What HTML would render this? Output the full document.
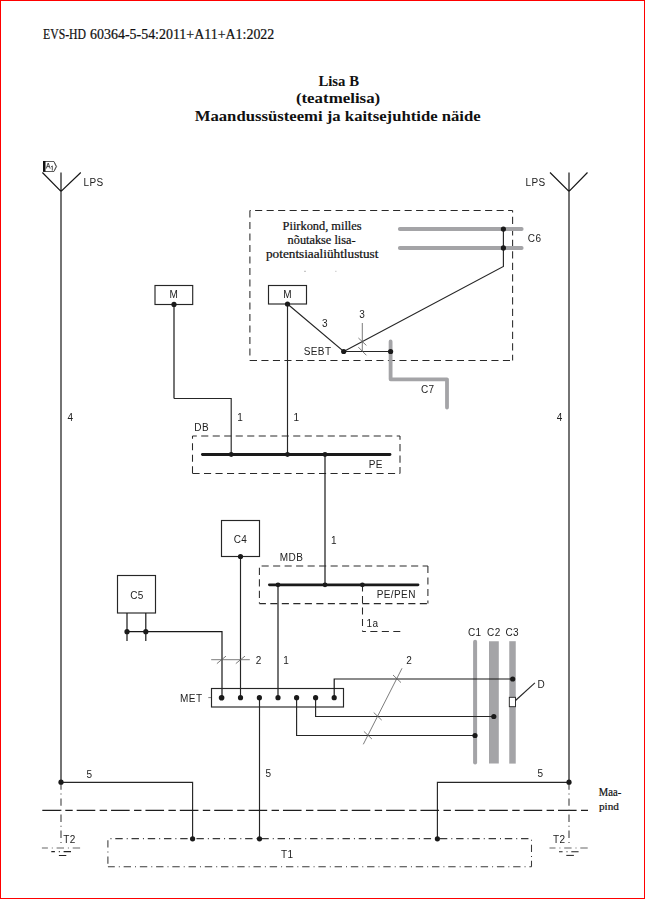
<!DOCTYPE html>
<html><head><meta charset="utf-8">
<style>
html,body{margin:0;padding:0;background:#fff;}
body{width:645px;height:899px;overflow:hidden;position:relative;}
svg{position:absolute;left:0;top:0;}
#dg{will-change:transform;}
.s{font-family:"Liberation Sans",sans-serif;font-size:10px;fill:#222;letter-spacing:0.4px;transform:translateY(0.4px);}
.r{font-family:"Liberation Serif",serif;fill:#111;stroke:#111;stroke-width:0.22;}
.b{stroke:none;}
.b{font-weight:bold;}
.ln{stroke:#262626;stroke-width:1.15;fill:none;}
.ln2{stroke:#181818;stroke-width:1.2;fill:none;}
.th{stroke:#5a5a5a;stroke-width:0.8;fill:none;}
.pipe{stroke:#a4a4a7;fill:none;}
.dash{stroke:#2a2a2a;stroke-width:1.05;fill:none;stroke-dasharray:7.1 4.4;}
.dd{stroke:#3a3a3a;stroke-width:1.05;fill:none;stroke-dasharray:7.4 3.9 1 3.8;}
</style></head><body>
<svg id="tx" width="645" height="899" viewBox="0 0 645 899">
<text class="r" x="43" y="39.3" font-size="13.8" textLength="43" lengthAdjust="spacingAndGlyphs">EVS-HD</text>
<text class="r" x="90.1" y="39.3" font-size="13.8" textLength="184.2" lengthAdjust="spacingAndGlyphs">60364-5-54:2011+A11+A1:2022</text>
<text class="r b" x="318.4" y="85.8" font-size="15.6" textLength="40.6" lengthAdjust="spacingAndGlyphs">Lisa B</text>
<text class="r b" x="295.9" y="102.9" font-size="15.6" textLength="84.3" lengthAdjust="spacingAndGlyphs">(teatmelisa)</text>
<text class="r b" x="194.7" y="120.6" font-size="15.6" textLength="286" lengthAdjust="spacingAndGlyphs">Maandussüsteemi ja kaitsejuhtide näide</text>
<text class="r" x="322.1" y="229.7" font-size="11.6" text-anchor="middle" textLength="79" lengthAdjust="spacingAndGlyphs">Piirkond, milles</text>
<text class="r" x="321.6" y="244.1" font-size="11.6" text-anchor="middle" textLength="68" lengthAdjust="spacingAndGlyphs">nõutakse lisa-</text>
<text class="r" x="322.2" y="258.3" font-size="11.6" text-anchor="middle" textLength="112.4" lengthAdjust="spacingAndGlyphs">potentsiaaliühtlustust</text>
<text class="r" x="598.8" y="795.7" font-size="11.5" textLength="22.4" lengthAdjust="spacingAndGlyphs">Maa-</text>
<text class="r" x="599" y="809.9" font-size="11.2">pind</text>
</svg>
<svg id="dg" width="645" height="899" viewBox="0 0 645 899">
<rect x="0.5" y="0.5" width="644" height="898" fill="none" stroke="#ff0000" stroke-width="1"/>

<!-- header -->

<!-- LPS left -->
<path class="ln2" d="M61 172.5V782M42.4 172.5L61 191.4L80.8 172.5"/>
<text class="s" x="83.5" y="185.7">LPS</text>
<text class="s" x="67.5" y="421">4</text>
<!-- A1 marker -->
<path d="M43.5 161.5H54L56.6 166.5L54 171.5H43.5Z" fill="#fff" stroke="#333" stroke-width="0.8"/><path d="M54.2 162.5L56 166.5L54.2 170.5" fill="none" stroke="#444" stroke-width="0.6"/>
<rect x="43" y="161" width="2.5" height="10.7" fill="#111"/>
<path d="M46.2 168.6L48.2 163L50.2 168.6M47 166.6H49.4M51.1 166.9L52.3 165.9V170.6" fill="none" stroke="#333" stroke-width="0.85"/>

<!-- LPS right -->
<path class="ln2" d="M569 172.5V782M550 172.5L569 191.4L587.5 172.5"/>
<text class="s" x="525.5" y="185.7">LPS</text>
<text class="s" x="556.7" y="421">4</text>

<!-- big dashed box -->
<path class="dash" d="M249.9 210.5H512.6" stroke-dashoffset="6.3"/>
<path class="dash" d="M512.6 210.5V360.5" stroke-dashoffset="5.2"/>
<path class="dash" d="M249.9 360.5H512.6" stroke-dashoffset="0"/>
<path class="dash" d="M249.9 210.5V360.5" stroke-dashoffset="0"/>
<path d="M304 271.3h2" stroke="#bbb" stroke-width="1"/><path d="M335 271.3h1.6" stroke="#ccc" stroke-width="1"/>

<!-- C6 pipes -->
<path class="pipe" stroke-width="4" stroke-linecap="round" d="M399.9 229.05H521.6M399.9 247.9H521.6"/>
<text class="s" x="527.8" y="241.8">C6</text>
<path class="ln" d="M503.4 229V266.4L343.7 351.5"/>

<!-- M boxes -->
<rect class="ln" x="268.5" y="285.5" width="38" height="18.5"/>
<text class="s" x="287.5" y="298" text-anchor="middle">M</text>
<rect class="ln" x="155" y="285.5" width="37.7" height="19"/>
<text class="s" x="173.8" y="298" text-anchor="middle">M</text>

<path class="ln" d="M287.5 304L343.7 351.5H390.6"/>
<text class="s" x="325" y="327" text-anchor="middle">3</text>
<text class="s" x="303.7" y="354.5">SEBT</text>
<path class="th" d="M362.3 323V351.3M358.4 338L366.4 345.4M358.4 347.2L366.4 355.3"/>
<text class="s" x="362.3" y="317.9" text-anchor="middle">3</text>

<!-- C7 pipe -->
<path class="pipe" stroke-width="3.8" stroke-linecap="round" stroke-linejoin="round" d="M390.6 341.5V379.3H447V407.6"/>
<text class="s" x="421" y="392.9">C7</text>

<!-- wires from M to DB -->
<path class="ln2" d="M174 304.4V398.5"/><path class="ln" d="M174 398.5H231.2V454.5M287.5 304V454.5"/>
<text class="s" x="237.2" y="420.7">1</text>
<text class="s" x="293.5" y="420.7">1</text>

<!-- DB -->
<text class="s" x="194.3" y="430.2">DB</text>
<path class="dash" d="M192.5 436H400" stroke-dashoffset="2.8"/>
<path class="dash" d="M400 436V473.5" stroke-dashoffset="3.4"/>
<path class="dash" d="M192.5 473.5H400" stroke-dashoffset="0"/>
<path class="dash" d="M192.5 436V473.5" stroke-dashoffset="4.3"/>
<path stroke="#1a1a1a" stroke-width="2.8" stroke-linecap="round" d="M202.4 454.5H390"/>
<text class="s" x="368.7" y="467.8">PE</text>
<path class="ln2" d="M325 454.5V584.8"/>
<text class="s" x="331" y="543.2">1</text>

<!-- C4 -->
<rect class="ln" x="221.5" y="520.5" width="38" height="36"/>
<text class="s" x="240.5" y="543.1" text-anchor="middle">C4</text>
<path class="ln" d="M240.5 556.5V697.6"/>

<!-- MDB -->
<text class="s" x="279.8" y="560.8">MDB</text>
<path class="dash" d="M259.4 566H427.9" stroke-dashoffset="9.3"/>
<path class="dash" d="M427.9 566V603.6" stroke-dashoffset="0"/>
<path class="dash" d="M259.4 603.6H427.9" stroke-dashoffset="0.6"/>
<path class="dash" d="M259.4 566V603.6" stroke-dashoffset="9.7"/>
<path stroke="#1a1a1a" stroke-width="2.8" stroke-linecap="round" d="M269.4 584.8H418"/>
<text class="s" x="376.7" y="598">PE/PEN</text>
<path class="dash" d="M362.5 584.8V631.5" stroke-dashoffset="0.3"/>
<path class="dash" d="M362.5 631.5H400.3" stroke-dashoffset="3.7"/>
<text class="s" x="366.5" y="626.3">1a</text>
<path class="ln2" d="M278 584.8V697.6"/>

<!-- C5 -->
<rect class="ln" x="117.5" y="575.5" width="38" height="37.5"/>
<text class="s" x="137" y="598.2" text-anchor="middle">C5</text>
<path class="ln2" d="M127 613V641M145.8 613V641M127 631.7H222V697.6"/>

<path class="th" d="M211.2 659.7H249.8M216.9 663.6L226 656.1M235.8 663.6L245 656.1"/>
<text class="s" x="258.8" y="664" text-anchor="middle">2</text>
<text class="s" x="286.3" y="664" text-anchor="middle">1</text>

<!-- pipes C1 C2 C3 -->
<path class="pipe" stroke-width="4" stroke-linecap="round" d="M475.1 641.7V762.4"/>
<path class="pipe" stroke-width="9.8" d="M493.9 641.2V763.6"/>
<path class="pipe" stroke-width="6.5" d="M512.5 641.2V763.6"/>
<!-- MET -->
<text class="s" x="180.1" y="701.8">MET</text>
<path class="th" d="M208.3 697.6H211.2"/>
<rect class="ln" x="211.5" y="688.5" width="132" height="18.5"/>
<path class="ln" d="M259.5 697.6V838.8M296.6 697.6V735.5H475M315.6 697.6V716.5H493.8"/><path class="ln2" d="M334.2 697.6V679H512.7"/>

<text class="s" x="468" y="635.8">C1</text>
<text class="s" x="487.1" y="635.8">C2</text>
<text class="s" x="505.4" y="635.8">C3</text>
<rect x="509.3" y="697.3" width="6.2" height="9.4" fill="#fff" stroke="#222" stroke-width="0.9"/>
<path class="ln" d="M515.5 700.5L534.9 682.8"/>
<text class="s" x="537.5" y="687.4">D</text>

<path class="th" d="M402 668.3L363.3 744.3M393 675L401 682.6M373.7 712.5L381.7 720.1M363.9 731.4L371.9 739"/>
<text class="s" x="409.3" y="663.6" text-anchor="middle">2</text>

<!-- earth connections -->
<path class="ln" d="M61 782.3H192.6V838.8M569 782.3H437.4V838.8"/>
<text class="s" x="89.4" y="777.3" text-anchor="middle">5</text>
<text class="s" x="540.5" y="776.8" text-anchor="middle">5</text>
<text class="s" x="265.6" y="776.9">5</text>

<!-- ground line -->
<path stroke="#1e1e1e" stroke-width="1.1" stroke-dasharray="18.6 4.4 7.4 3.98" d="M42.3 810.4H588"/>

<!-- dash-dot verticals to T2 -->
<path class="dd" d="M61 782.5V843M569 782.5V843" stroke-dashoffset="0.2"/>
<text class="s" x="63.2" y="842.7">T2</text>
<text class="s" x="553" y="842.6">T2</text>
<!-- earth symbols -->
<path class="dd" d="M41.9 848H80.5M549.5 848H588" stroke-dashoffset="1.4" style="stroke:#666"/>
<path class="dd" d="M51.3 851.6H71M559 851.8H578.6" stroke-dashoffset="3.8" style="stroke:#222"/>
<path stroke="#222" stroke-width="1" d="M58.9 855.5H66.3M566.3 855.4H573.9"/>

<!-- T1 -->
<path class="dd" d="M107.9 838.6H531.5" stroke-dashoffset="8.83" style="stroke-dasharray:7.4 4 1 3.83"/>
<path class="dd" d="M107.9 838.6V866.8" stroke-dashoffset="14.63" style="stroke-dasharray:7.4 4 1 3.83"/>
<path class="dd" d="M107.9 866.8H531.5" stroke-dashoffset="0.5" style="stroke-dasharray:7.4 4 1 3.83"/>
<path class="dd" d="M531.5 838.6V866.8" stroke-dashoffset="10.2" style="stroke-dasharray:7.4 4 1 3.83"/>
<text class="s" x="280.9" y="857.9">T1</text>

<!-- dots -->
<g fill="#1a1a1a">
<circle cx="61" cy="782.2" r="2.6"/><circle cx="569" cy="782.2" r="2.6"/>
<circle cx="192.6" cy="838.8" r="2.6"/><circle cx="259.5" cy="838.8" r="2.6"/><circle cx="437.4" cy="838.8" r="2.6"/>
<circle cx="503.4" cy="229.1" r="2.6"/><circle cx="503.4" cy="247.9" r="2.6"/>
<circle cx="287.5" cy="304" r="2.6"/><circle cx="174" cy="304.4" r="2.6"/>
<circle cx="343.7" cy="351.5" r="2.6"/><circle cx="390.6" cy="351.5" r="2.6"/>
<circle cx="231.2" cy="454.5" r="2.4"/><circle cx="287.5" cy="454.5" r="2.4"/><circle cx="325" cy="454.5" r="2.4"/>
<circle cx="240.5" cy="556.5" r="2.6"/>
<circle cx="278" cy="584.8" r="2.4"/><circle cx="325" cy="584.8" r="2.4"/><circle cx="362.4" cy="584.8" r="2.4"/>
<circle cx="127" cy="631.7" r="2.6"/><circle cx="145.8" cy="631.7" r="2.6"/>
<circle cx="221.6" cy="697.7" r="2.8"/><circle cx="240.5" cy="697.7" r="2.6"/><circle cx="259.4" cy="697.7" r="2.6"/><circle cx="278" cy="697.7" r="2.6"/><circle cx="296.6" cy="697.7" r="2.6"/><circle cx="315.6" cy="697.7" r="2.6"/><circle cx="334.2" cy="697.7" r="2.6"/>
<circle cx="512.7" cy="679" r="2.6"/><circle cx="493.8" cy="716.5" r="2.6"/><circle cx="475" cy="735.5" r="2.6"/>
</g>
</svg>
</body></html>
